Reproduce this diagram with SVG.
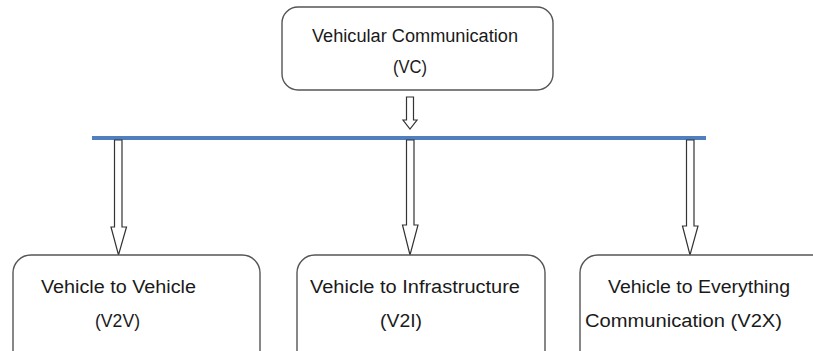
<svg xmlns="http://www.w3.org/2000/svg" width="813" height="351" viewBox="0 0 813 351">
<style>
.box{fill:#fff;stroke:#555;stroke-width:1.4}
.arr{fill:#fff;stroke:#333;stroke-width:1.2;stroke-linejoin:miter}
.bus{stroke:#4F7FBF;stroke-width:4}
text{font-family:"Liberation Sans",Arial,sans-serif;font-size:18px;fill:#1a1a1a}
</style>
<rect width="813" height="351" fill="#fff"/>
<g id="vc">
<rect class="box" x="282" y="7" width="271" height="83" rx="16"/>
<text x="312" y="42" textLength="206" lengthAdjust="spacingAndGlyphs">Vehicular Communication</text>
<text x="393" y="73" textLength="34" lengthAdjust="spacingAndGlyphs">(VC)</text>
</g>
<g id="connectors">
<line class="bus" x1="92" y1="138" x2="706" y2="138"/>
<polygon class="arr" points="406.5,97 413.5,97 413.5,120 417,120 410,129 403,120 406.5,120"/>
<polygon class="arr" points="114.5,140 122,140 122,227 126.5,227 118.5,255 111,227 114.5,227"/>
<polygon class="arr" points="406.5,140 414,140 414,225 418,225 410,255 402.5,225 406.5,225"/>
<polygon class="arr" points="686.5,140 694,140 694,226 698,226 690,255 682.5,226 686.5,226"/>
</g>
<g id="v2v">
<rect class="box" x="13" y="255" width="247" height="115" rx="18"/>
<text x="41" y="293" textLength="155" lengthAdjust="spacingAndGlyphs">Vehicle to Vehicle</text>
<text x="95" y="327" textLength="45" lengthAdjust="spacingAndGlyphs">(V2V)</text>
</g>
<g id="v2i">
<rect class="box" x="297" y="255" width="248" height="115" rx="18"/>
<text x="310" y="293" textLength="210" lengthAdjust="spacingAndGlyphs">Vehicle to Infrastructure</text>
<text x="380" y="327" textLength="42" lengthAdjust="spacingAndGlyphs">(V2I)</text>
</g>
<g id="v2x">
<rect class="box" x="580" y="255" width="250" height="115" rx="18"/>
<text x="608" y="293" textLength="182" lengthAdjust="spacingAndGlyphs">Vehicle to Everything</text>
<text x="585" y="327" textLength="197" lengthAdjust="spacingAndGlyphs">Communication (V2X)</text>
</g>
</svg>
